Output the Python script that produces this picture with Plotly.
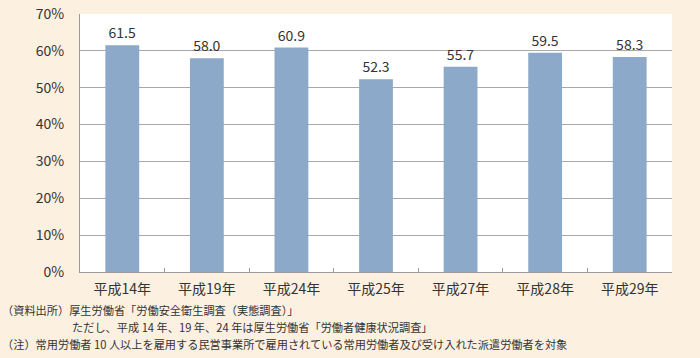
import plotly.graph_objects as go

categories = ["平成14年", "平成19年", "平成24年", "平成25年", "平成27年", "平成28年", "平成29年"]
values = [61.5, 58.0, 60.9, 52.3, 55.7, 59.5, 58.3]
y_ticks = [0, 10, 20, 30, 40, 50, 60, 70]
y_tick_labels = [f"{v}%" for v in y_ticks]
notes = [
    "（資料出所）厚生労働省「労働安全衛生調査（実態調査）」",
    "ただし、平成 14 年、19 年、24 年は厚生労働省「労働者健康状況調査」",
    "（注）常用労働者 10 人以上を雇用する民営事業所で雇用されている常用労働者及び受け入れた派遣労働者を対象",
]

FONT = "Noto Sans CJK JP"
W, H = 700, 358
L, R, T, B = 80, 28, 14, 86
pw, ph = W - L - R, H - T - B

fig = go.Figure(go.Bar(
    x=categories, y=values,
    marker=dict(color="#8DA9C9", line=dict(width=0)),
    width=0.4,
    text=[f"{v:.1f}" for v in values],
    textposition="outside",
    textfont=dict(family=FONT, size=14, color="#333333"),
    cliponaxis=False,
))

fig.update_layout(
    width=W, height=H,
    margin=dict(l=L, r=R, t=T, b=B, autoexpand=False),
    paper_bgcolor="#FCF0E0",
    plot_bgcolor="#FFFFFF",
    showlegend=False,
    font=dict(family=FONT, color="#333333"),
    xaxis=dict(
        automargin=False,
        tickfont=dict(family=FONT, size=14, color="#333333"),
        showline=True, linecolor="#9A9A9A", linewidth=1,
        ticks="inside", ticklen=4, tickcolor="#9A9A9A", tickson="boundaries",
        showgrid=False, ticklabelstandoff=4,
    ),
    yaxis=dict(
        automargin=False,
        range=[0, 70], tickvals=y_ticks, ticktext=y_tick_labels,
        tickfont=dict(family=FONT, size=14, color="#333333"),
        showgrid=True, gridcolor="#A8A8A8", gridwidth=1,
        showline=True, linecolor="#9A9A9A", linewidth=1,
        ticks="", ticklabelstandoff=12,
        zeroline=False,
    ),
)

note_x = [0, 70, 0]
note_y = [310, 327, 344]
for txt, px, py in zip(notes, note_x, note_y):
    fig.add_annotation(
        text=txt, xref="paper", yref="paper",
        x=(px - L) / pw, y=(H - B - py) / ph,
        xanchor="left", yanchor="middle", showarrow=False,
        font=dict(family=FONT, size=11.2, color="#333333"),
    )

fig.write_html(
    "out.html",
    config={"displayModeBar": False},
    post_script="document.body.style.margin='0';document.body.style.background='#FCF0E0';",
)
